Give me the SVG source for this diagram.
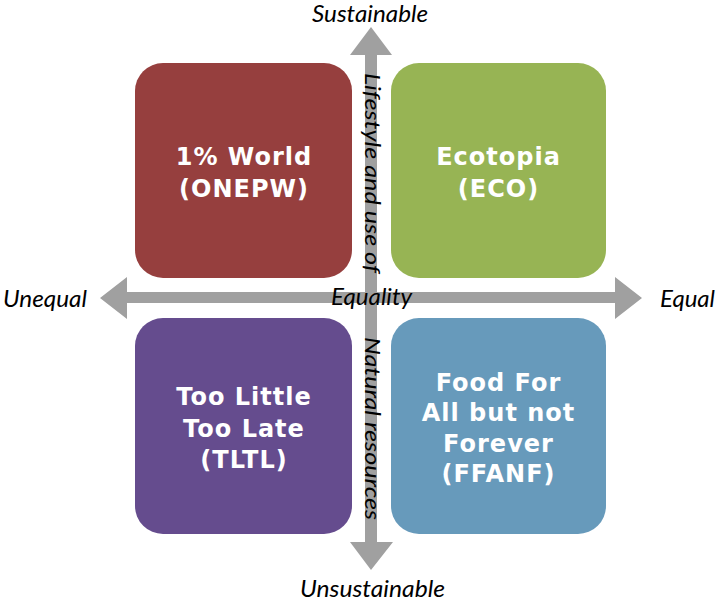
<svg xmlns="http://www.w3.org/2000/svg" width="720" height="601" viewBox="0 0 720 601">
  <style>
    .box { stroke: none; }
    .nt { font-family: "DejaVu Sans", Verdana, sans-serif; font-weight: bold; font-size: 24px; letter-spacing: 1px; fill: #ffffff; text-anchor: middle; }
    .ax { font-family: Lato, "Open Sans", "Liberation Sans", sans-serif; font-style: italic; font-size: 24px; fill: #000000; }
    .vt { font-family: Lato, "Open Sans", "Liberation Sans", sans-serif; font-style: italic; font-size: 21px; fill: #000000; }
    .arrow { fill: #a0a0a0; stroke: none; }
  </style>
  <rect width="720" height="601" fill="#ffffff"/>

  <g id="connectors">
    <path class="arrow" d="M100,298 L127,277 L127,292 L615,292 L615,277 L642,298 L615,319 L615,303 L127,303 L127,319 Z"/>
    <path class="arrow" d="M371,27 L392,55 L377,55 L377,542 L393,542 L371,570 L350,542 L365,542 L365,55 L350,55 Z"/>
  </g>

  <g id="onepw">
    <rect class="box" x="135" y="63" width="217" height="215" rx="28" fill="#963f3e"/>
    <text class="nt" x="244" y="165">1% World</text>
    <text class="nt" x="244" y="197">(ONEPW)</text>
  </g>
  <g id="eco">
    <rect class="box" x="391" y="63" width="215" height="215" rx="28" fill="#97b454"/>
    <text class="nt" x="498.5" y="165">Ecotopia</text>
    <text class="nt" x="498.5" y="197">(ECO)</text>
  </g>
  <g id="tltl">
    <rect class="box" x="135" y="318" width="217" height="216" rx="28" fill="#654c8e"/>
    <text class="nt" x="244" y="405">Too Little</text>
    <text class="nt" x="244" y="437">Too Late</text>
    <text class="nt" x="244" y="468">(TLTL)</text>
  </g>
  <g id="ffanf">
    <rect class="box" x="391" y="318" width="215" height="216" rx="28" fill="#679abb"/>
    <text class="nt" x="498.5" y="391">Food For</text>
    <text class="nt" x="498.5" y="421">All but not</text>
    <text class="nt" x="498.5" y="452">Forever</text>
    <text class="nt" x="498.5" y="482">(FFANF)</text>
  </g>

  <g id="axis-labels">
    <text class="ax" x="312" y="22" textLength="116" lengthAdjust="spacingAndGlyphs" style="font-size:23px">Sustainable</text>
    <text class="ax" x="300" y="597" textLength="145" lengthAdjust="spacingAndGlyphs">Unsustainable</text>
    <text class="ax" x="3" y="307" textLength="84" lengthAdjust="spacingAndGlyphs">Unequal</text>
    <text class="ax" x="660" y="307" textLength="55" lengthAdjust="spacingAndGlyphs">Equal</text>
    <text class="ax" x="331" y="305" textLength="81" lengthAdjust="spacingAndGlyphs">Equality</text>
    <text class="vt" transform="translate(365,73) rotate(90)" x="0" y="0" textLength="200" lengthAdjust="spacingAndGlyphs">Lifestyle and use of</text>
    <text class="vt" transform="translate(365,337) rotate(90)" x="0" y="0" textLength="183" lengthAdjust="spacingAndGlyphs">Natural resources</text>
  </g>
</svg>
